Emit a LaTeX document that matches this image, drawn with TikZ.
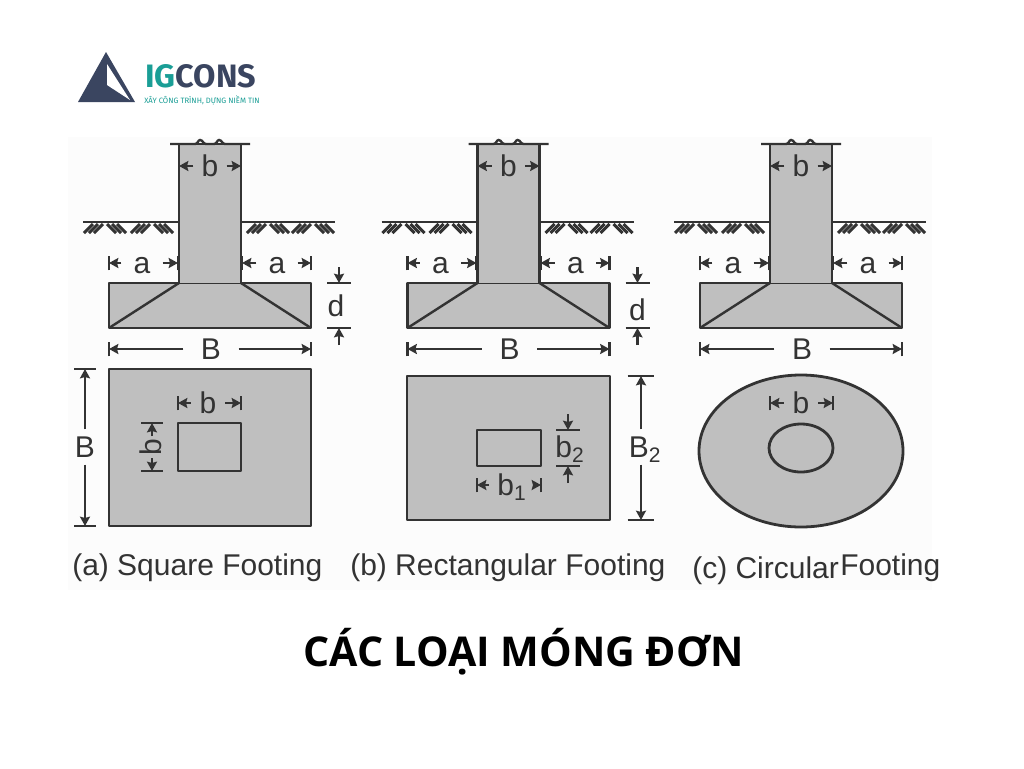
\documentclass[tikz,border=0pt]{standalone}
\usepackage{fontspec}
\usetikzlibrary{arrows.meta}
\setmainfont{Liberation Sans}
\newfontfamily\titlefont{Open Sans}
\newfontfamily\logofont{Fira Sans}
\definecolor{ink}{HTML}{333333}
\definecolor{concrete}{HTML}{BFBFBF}
\definecolor{navy}{HTML}{3A4560}
\definecolor{teal}{HTML}{1A9E96}
\newcommand{\lblfont}{\fontsize{22.5}{24}\selectfont}
\tikzset{
  member/.style={draw=ink,fill=concrete,line width=2.1pt,line join=round},
  edgeline/.style={draw=ink,line width=1.8pt},
  tickline/.style={draw=ink,line width=1.7pt},
  dimtip/.style={draw=ink,line width=1.7pt,-{Stealth[length=7pt,width=7.5pt,inset=1pt]}},
  dimlabel/.style={inner sep=0pt,text=ink,font=\lblfont,text height=16pt,text depth=0pt,align=center},
  caption/.style={inner sep=0pt,text=ink,font=\lblfont,anchor=base west},
}
% horizontal dimension: name, x1, x2, y, label x, text, gap
\newcommand{\hdim}[7]{%
  \node[dimlabel,inner xsep=#7] (#1) at (#5,#4) {#6};
  \coordinate (#1L) at (#2,#4);
  \coordinate (#1R) at (#3,#4);
  \draw[tickline] ([yshift=-5.5pt]#1L) -- ([yshift=5.5pt]#1L);
  \draw[tickline] ([yshift=-5.5pt]#1R) -- ([yshift=5.5pt]#1R);
  \draw[dimtip] (#1.west |- #1L) -- (#1L);
  \draw[dimtip] (#1.east |- #1R) -- (#1R);
}
% vertical dimension, arrows from the label outwards: name,x,y1,y2,label x,label y,text,half tick
\newcommand{\vdim}[8]{%
  \node[dimlabel,inner ysep=5pt] (#1) at (#5,#6) {#7};
  \coordinate (#1T) at (#2,#3);
  \coordinate (#1B) at (#2,#4);
  \draw[tickline] ([xshift=-#8]#1T) -- ([xshift=#8]#1T);
  \draw[tickline] ([xshift=-#8]#1B) -- ([xshift=#8]#1B);
  \draw[dimtip] (#1T |- #1.north) -- (#1T);
  \draw[dimtip] (#1B |- #1.south) -- (#1B);
}
% vertical dimension, arrows from outside pointing in: name,x,y1,y2,label x,label y,text,half tick
\newcommand{\odim}[8]{%
  \node[dimlabel] (#1) at (#5,#6) {#7};
  \coordinate (#1T) at (#2,#3);
  \coordinate (#1B) at (#2,#4);
  \coordinate (#1TS) at (#2,#3-16);
  \coordinate (#1BS) at (#2,#4+17);
  \draw[tickline] ([xshift=-#8]#1T) -- ([xshift=#8]#1T);
  \draw[tickline] ([xshift=-#8]#1B) -- ([xshift=#8]#1B);
  \draw[dimtip] (#1TS) -- (#1T);
  \draw[dimtip] (#1BS) -- (#1B);
}
\newcommand{\hatchgroup}[1]{%
  \foreach \d in {2,7,12}{
    \draw[ink,line width=2.2pt] (#1-\d,224) -- (#1-\d-9,233);
    \draw[ink,line width=2.2pt] (#1+\d,224) -- (#1+\d+9,233);
  }%
}
% elevation of a footing without its depth dimension
\newcommand{\elevation}[1]{%
  \hatchgroup{105}\hatchgroup{152}\hatchgroup{268}\hatchgroup{313}
  \draw[member] (109,283) rectangle (311,328);
  \draw[edgeline] (179,283) -- (109,328);
  \draw[edgeline] (241,283) -- (311,328);
  \draw[member] (179,283) -- (179,144) -- (241,144) -- (241,283);
  \draw[edgeline] (170,144) -- (195,144) .. controls (198,144) and (198,140) .. (200,140)
     .. controls (203,140) and (203,144) .. (206,144) -- (214,144)
     .. controls (217,144) and (217,140) .. (219,140)
     .. controls (222,140) and (222,144) .. (225,144) -- (250,144);
  \draw[edgeline] (83,222) -- (179,222);
  \draw[edgeline] (241,222) -- (335,222);
  \hdim{#1topb}{179}{241}{166}{210}{b}{6pt}
  \hdim{#1la}{109}{178}{263}{142}{a}{9pt}
  \hdim{#1ra}{242}{311}{263}{277}{a}{9pt}
  \hdim{#1B}{109}{311}{349}{211}{B}{13pt}
}
\begin{document}
\begin{tikzpicture}[x=0.75pt,y=-0.75pt]
\useasboundingbox (0,0) rectangle (1024,768);
\fill[white] (0,0) rectangle (1024,768);
\fill[black!1] (68,137) rectangle (932,590);

% logo
\fill[navy] (106,52) -- (135,102) -- (78,102) -- cycle;
\fill[white] (107,64) -- (107,85) -- (130,100) -- cycle;
\node[inner sep=0pt,anchor=base west] (logoname) at (145,87)
  {\logofont\fontsize{24.3}{26}\selectfont\bfseries\textcolor{teal}{IG}\textcolor{navy}{CONS}};
\node[inner sep=0pt,anchor=base west,text=teal] (logotag) at (144,103)
  {\logofont\fontsize{5.8}{7}\selectfont XÂY CÔNG TRÌNH, DỰNG NIỀM TIN};

% (a)
\begin{scope}
  \elevation{a}
  \odim{ad}{339}{283}{328}{336}{306}{d}{9pt}
  \draw[member] (109,369) rectangle (311,526);
  \draw[member] (178,423) rectangle (241,471);
  \hdim{aplanb}{178}{241}{403}{208}{b}{6.5pt}
  \node[dimlabel,rotate=90] (arotb) at (151,447) {b};
  \coordinate (arotT) at (152,423);
  \coordinate (arotB) at (152,471);
  \coordinate (arotTS) at (152,436);
  \coordinate (arotBS) at (152,458);
  \draw[tickline] ([xshift=-8pt]arotT) -- ([xshift=8pt]arotT);
  \draw[tickline] ([xshift=-8pt]arotB) -- ([xshift=8pt]arotB);
  \draw[dimtip] (arotTS) -- (arotT);
  \draw[dimtip] (arotBS) -- (arotB);
  \vdim{aplanB}{85}{369}{526}{85}{447}{B}{8pt}
\end{scope}
\node[caption] (capa) at (72,575) {(a) Square Footing};

% (b)
\begin{scope}[shift={(298.5,0)}]
  \elevation{b}
  \odim{bd}{339}{283}{328}{339}{310}{d}{9pt}
\end{scope}
\draw[member] (407,376) rectangle (610,520);
\draw[member] (477,430) rectangle (541,466);
\hdim{bplanb}{477}{541}{485}{512}{b\textsubscript{1}}{6pt}
\odim{bplanbb}{568}{430}{466}{570}{447}{b\textsubscript{2}}{9pt}
\vdim{bplanB}{641}{376}{520}{645}{447}{B\textsubscript{2}}{10pt}
\node[caption] (capb) at (350,575) {(b) Rectangular Footing};

% (c)
\begin{scope}[shift={(591,0)}]
  \elevation{c}
\end{scope}
\draw[member] (801,451) ellipse [x radius=102,y radius=76];
\draw[member] (801,448) ellipse [x radius=32,y radius=24];
\hdim{cplanb}{770}{833}{403}{801}{b}{6.5pt}
\node[caption] (capc) at (692,578) {(c) Circular};
\node[caption] (capf) at (840,575) {Footing};

% title
\node[inner sep=0pt,text=black] (title) at (523.5,652)
  {\titlefont\fontsize{30.8}{34}\selectfont\bfseries CÁC LOẠI MÓNG ĐƠN};
\end{tikzpicture}
\end{document}
